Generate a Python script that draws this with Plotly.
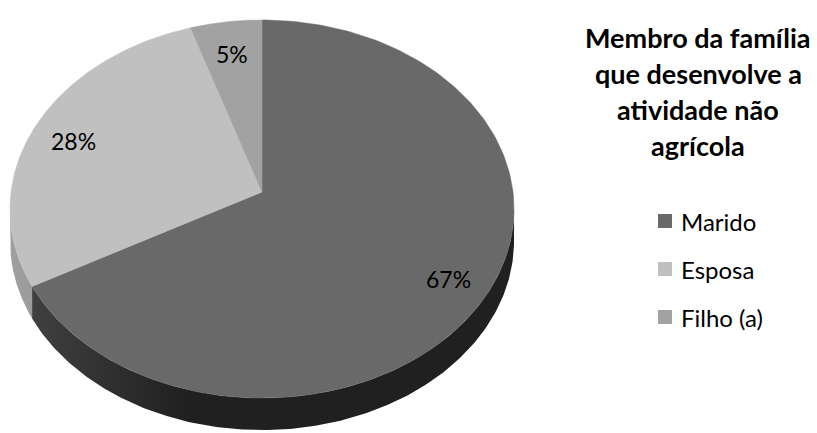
import numpy as np
import plotly.graph_objects as go

# Data
categories = ["Marido", "Esposa", "Filho (a)"]
values = [67, 28, 5]
top_colors = ["#696969", "#c0c0c0", "#a2a2a2"]
side_dark = ["#202020", "#7a7a7a", "#707070"]
side_light = ["#444444", "#a0a0a0", "#8a8a8a"]
title_lines = ["Membro da família", "que desenvolve a", "atividade não", "agrícola"]

W, H = 817, 433
FONT = "Lato, Carlito, Calibri, 'Open Sans', sans-serif"

# Tilted pie geometry (pixel space); theta measured clockwise from 12 o'clock
X0, Y0 = 262.0, 192.0      # apex of the pie on screen
A, B = 251.0, 187.5        # horizontal / vertical radii
K = 0.09                   # perspective foreshortening
DEPTH = 32.0               # thickness of the pie


def project(theta_deg, r=1.0):
    t = np.radians(theta_deg)
    s = 1.0 + K * r * np.cos(t)
    return X0 + A * r * np.sin(t) / s, Y0 - B * r * np.cos(t) / s


total = float(sum(values))
bounds = np.concatenate([[0.0], np.cumsum(values) / total * 360.0])

# silhouette of the front wall
theta_r = np.degrees(np.arccos(-K))
front_lo, front_hi = theta_r, 360.0 - theta_r
x_left = float(project(front_hi)[0])
x_right = float(project(front_lo)[0])

fig = go.Figure()

# Front wall of each slice, shaded left (light) to right (dark)
for i in range(len(values)):
    lo = max(bounds[i], front_lo)
    hi = min(bounds[i + 1], front_hi)
    if hi <= lo:
        continue
    th = np.linspace(lo, hi, 200)
    xs, ys = project(th)
    px = np.concatenate([xs, xs[::-1]])
    py = np.concatenate([ys, ys[::-1] + DEPTH])
    fig.add_trace(go.Scatter(
        x=px, y=py, mode="lines", fill="toself",
        fillgradient=dict(type="horizontal", start=x_left, stop=x_right,
                          colorscale=[[0, side_light[i]], [0.35, side_dark[i]],
                                      [1, side_dark[i]]]),
        line=dict(width=0), hoverinfo="skip", showlegend=False))

# Top face slices
for i in range(len(values)):
    th = np.linspace(bounds[i], bounds[i + 1], 200)
    xs, ys = project(th)
    px = np.concatenate([[X0], xs, [X0]])
    py = np.concatenate([[Y0], ys, [Y0]])
    fig.add_trace(go.Scatter(
        x=px, y=py, mode="lines", fill="toself", fillcolor=top_colors[i],
        line=dict(color=top_colors[i], width=0.5), hoverinfo="skip",
        name=categories[i], showlegend=False))

# Percentage labels
annotations = []
for i, v in enumerate(values):
    mid = 0.5 * (bounds[i] + bounds[i + 1])
    lx, ly = project(mid, 0.83)
    annotations.append(dict(
        x=float(lx), y=float(ly) + 5, text=f"{v}%", showarrow=False,
        xanchor="center", yanchor="middle",
        font=dict(family=FONT, size=23, color="#000000")))

# Title block
title_y = [37, 73, 109, 145]
for line, ty in zip(title_lines, title_y):
    annotations.append(dict(
        x=698, y=ty, text=f"<b>{line}</b>", showarrow=False,
        xanchor="center", yanchor="middle",
        font=dict(family=FONT, size=27, color="#000000")))

# Legend
leg_y = [221, 269, 317]
fig.add_trace(go.Scatter(
    x=[665] * len(categories), y=leg_y, mode="markers",
    marker=dict(symbol="square", size=14, color=top_colors, line=dict(width=0)),
    hoverinfo="skip", showlegend=False))
for name, ly in zip(categories, leg_y):
    annotations.append(dict(
        x=679, y=ly, text=name, showarrow=False,
        xanchor="left", yanchor="middle",
        font=dict(family=FONT, size=24, color="#000000")))

fig.update_layout(
    width=W, height=H,
    margin=dict(l=0, r=0, t=0, b=0),
    paper_bgcolor="#ffffff", plot_bgcolor="#ffffff",
    xaxis=dict(range=[0, W], visible=False, fixedrange=True),
    yaxis=dict(range=[H, 0], visible=False, fixedrange=True),
    annotations=annotations,
    showlegend=False,
)

fig.write_html("out.html")
